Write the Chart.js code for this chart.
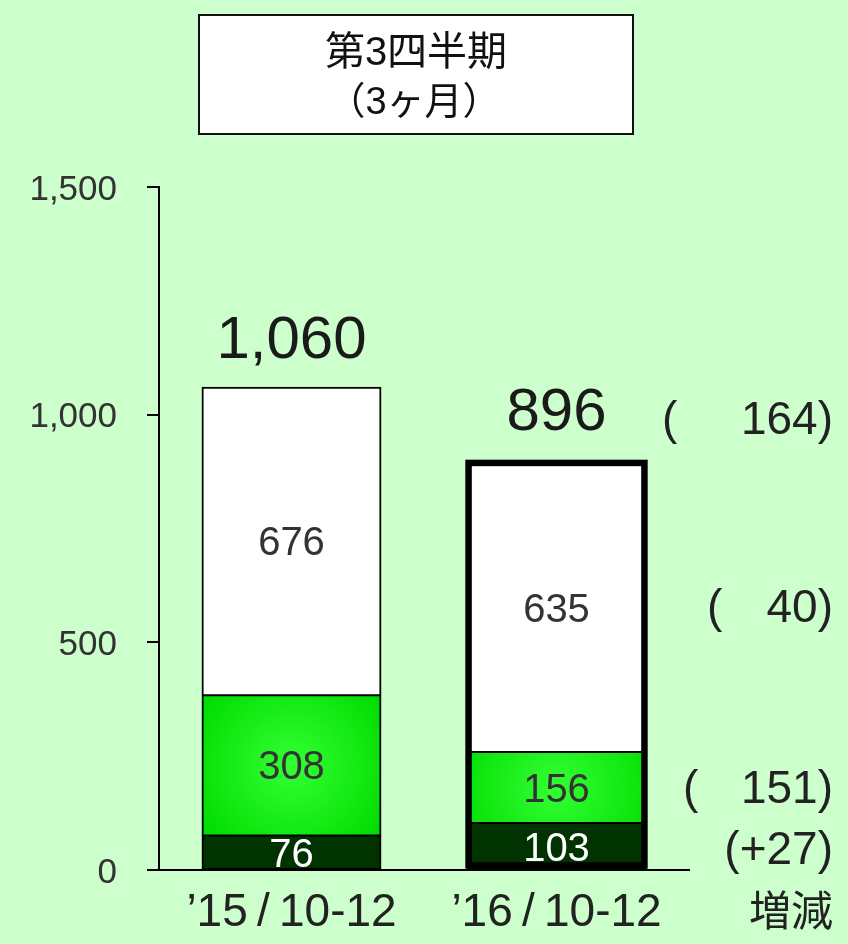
<!DOCTYPE html>
<html>
<head>
<meta charset="utf-8">
<script src="https://cdn.jsdelivr.net/npm/chart.js@4/dist/chart.umd.min.js"></script>
<style>
  html, body { margin: 0; padding: 0; background: #ccffcc; overflow: hidden; }
  canvas { display: block; }
</style>
</head>
<body>
<canvas id="chart" width="848" height="944"></canvas>
<script>
// Quarterly figures (Oct–Dec), stacked in three segments
const categories = ['’15\u2009/\u200910-12', '’16\u2009/\u200910-12'];
const baseSeries = [76, 103];   // dark green segment
const midSeries = [308, 156];   // bright green segment
const topSeries = [676, 635];   // white segment
const totalLabels = ['1,060', '896'];
const yTicks = [0, 500, 1000, 1500];

// Year-on-year change column on the right
const totalChange = -164;
const topChange = -40;
const midChange = -151;
const baseChange = 27;
const changeHeader = '増減';

const titleLines = ['第3四半期', '（3ヶ月）'];

const FONT = "'Liberation Sans', Arial, 'Noto Sans CJK JP', sans-serif";
const highlightIndex = 1;

function midGradient(ctx) {
  const chart = ctx.chart;
  const { chartArea, scales } = chart;
  if (!chartArea || ctx.type !== 'data' || !scales.x || !scales.y) return '#00e000';
  const i = ctx.dataIndex;
  const cx = scales.x.getPixelForValue(i);
  const y0 = scales.y.getPixelForValue(baseSeries[i]);
  const y1 = scales.y.getPixelForValue(baseSeries[i] + midSeries[i]);
  const cy = (y0 + y1) / 2;
  const g = chart.ctx.createRadialGradient(cx, cy, 0, cx, cy, 110);
  g.addColorStop(0, '#33ff33');
  g.addColorStop(1, '#00dc00');
  return g;
}

const segBorder = { top: 1.5, bottom: 1.5, left: 2, right: 2 };

const overlay = {
  id: 'overlay',
  afterDatasetsDraw(chart) {
    const ctx = chart.ctx;
    const xs = chart.scales.x, ys = chart.scales.y;
    const metaBase = chart.getDatasetMeta(0);
    const metaTop = chart.getDatasetMeta(2);

    // thick frame around the latest stack
    const b = metaBase.data[highlightIndex];
    const t = metaTop.data[highlightIndex];
    const left = b.x - b.width / 2, right = b.x + b.width / 2;
    ctx.save();
    ctx.strokeStyle = '#000';
    ctx.lineWidth = 6.5;
    ctx.strokeRect(left + 1.5, t.y, right - left - 3, b.base - t.y - 3.5);
    ctx.restore();

    // segment values
    ctx.save();
    ctx.textAlign = 'center';
    ctx.textBaseline = 'middle';
    ctx.font = '40px ' + FONT;
    categories.forEach((_, i) => {
      const cx = xs.getPixelForValue(i);
      const b0 = 0, b1 = baseSeries[i], b2 = b1 + midSeries[i], b3 = b2 + topSeries[i];
      ctx.fillStyle = '#ffffff';
      ctx.fillText(String(baseSeries[i]), cx, ys.getPixelForValue((b0 + b1) / 2) + 3);
      ctx.fillStyle = '#333333';
      ctx.fillText(String(midSeries[i]), cx, ys.getPixelForValue((b1 + b2) / 2) + 3);
      ctx.fillText(String(topSeries[i]), cx, ys.getPixelForValue((b2 + b3) / 2) + 3);
    });
    ctx.restore();

    // totals above each stack
    ctx.save();
    ctx.textAlign = 'center';
    ctx.textBaseline = 'middle';
    ctx.font = '60px ' + FONT;
    ctx.fillStyle = '#1a1a1a';
    const totalY = [];
    categories.forEach((_, i) => {
      const top = baseSeries[i] + midSeries[i] + topSeries[i];
      const y = ys.getPixelForValue(top) - 46 - (i === highlightIndex ? 3 : 0);
      totalY.push(y);
      ctx.fillText(totalLabels[i], xs.getPixelForValue(i), y);
    });
    ctx.restore();

    // change column
    const rightX = 833;
    const i = highlightIndex;
    const c1 = baseSeries[i] / 2;
    const c2 = baseSeries[i] + midSeries[i] / 2;
    const c3 = baseSeries[i] + midSeries[i] + topSeries[i] / 2;
    const rows = [
      { v: totalChange, y: totalY[i] + 7, parenX: 662 },
      { v: topChange, y: ys.getPixelForValue(c3) + 2, parenX: 707 },
      { v: midChange, y: ys.getPixelForValue(c2) + 3, parenX: 683 },
      { v: baseChange, y: ys.getPixelForValue(c1) + 5, parenX: null }
    ];
    ctx.save();
    ctx.textBaseline = 'middle';
    ctx.font = '46px ' + FONT;
    ctx.fillStyle = '#222222';
    rows.forEach(r => {
      if (r.v < 0) {
        ctx.textAlign = 'right';
        ctx.fillText(Math.abs(r.v) + ')', rightX, r.y);
        ctx.textAlign = 'left';
        ctx.fillText('(', r.parenX, r.y);
      } else {
        ctx.textAlign = 'right';
        ctx.fillText('(+' + r.v + ')', rightX, r.y);
      }
    });
    ctx.font = '42px ' + FONT;
    ctx.textAlign = 'right';
    ctx.fillText(changeHeader, rightX, 914);
    ctx.restore();
  },
  afterDraw(chart) {
    // heading box
    const ctx = chart.ctx;
    ctx.save();
    ctx.fillStyle = '#ffffff';
    ctx.fillRect(198, 14, 436, 121);
    ctx.strokeStyle = '#111';
    ctx.lineWidth = 2;
    ctx.strokeRect(199, 15, 434, 119);
    ctx.fillStyle = '#111111';
    ctx.textAlign = 'center';
    ctx.textBaseline = 'middle';
    ctx.font = '40px ' + FONT;
    ctx.fillText(titleLines[0], 416, 54);
    ctx.font = '38px ' + FONT;
    ctx.fillText(titleLines[1], 414, 104);
    ctx.restore();
  }
};

new Chart(document.getElementById('chart'), {
  type: 'bar',
  data: {
    labels: categories,
    datasets: [
      { data: baseSeries, backgroundColor: '#003300', borderColor: '#000', borderWidth: segBorder, borderSkipped: false },
      { data: midSeries, backgroundColor: midGradient, borderColor: '#000', borderWidth: segBorder, borderSkipped: false },
      { data: topSeries, backgroundColor: '#ffffff', borderColor: '#000', borderWidth: { top: 2, bottom: 1.5, left: 2, right: 2 }, borderSkipped: false }
    ]
  },
  options: {
    responsive: false,
    animation: false,
    events: [],
    layout: { padding: { left: 0, right: 159, top: 187, bottom: 0 } },
    datasets: { bar: { categoryPercentage: 1, barPercentage: 0.675, inflateAmount: 0.5 } },
    plugins: { legend: { display: false }, tooltip: { enabled: false }, title: { display: false } },
    scales: {
      x: {
        stacked: true,
        grid: { display: false, drawTicks: false },
        border: { display: true, color: '#000', width: 2 },
        ticks: { color: '#222222', font: { family: FONT, size: 46 }, padding: 16, maxRotation: 0, autoSkip: false },
        afterFit: s => { s.height = 74; }
      },
      y: {
        stacked: true,
        min: 0,
        max: 1500,
        afterBuildTicks: s => { s.ticks = yTicks.map(v => ({ value: v })); },
        grid: { display: true, drawOnChartArea: false, drawTicks: true, tickLength: 12, color: '#000', lineWidth: 2 },
        border: { display: true, color: '#000', width: 2 },
        ticks: {
          color: '#333333',
          font: { family: FONT, size: 35 },
          padding: 30,
          labelOffset: 3,
          callback: v => Number(v).toLocaleString('en-US')
        },
        afterFit: s => { s.width = 159; }
      }
    }
  },
  plugins: [overlay]
});
</script>
</body>
</html>
